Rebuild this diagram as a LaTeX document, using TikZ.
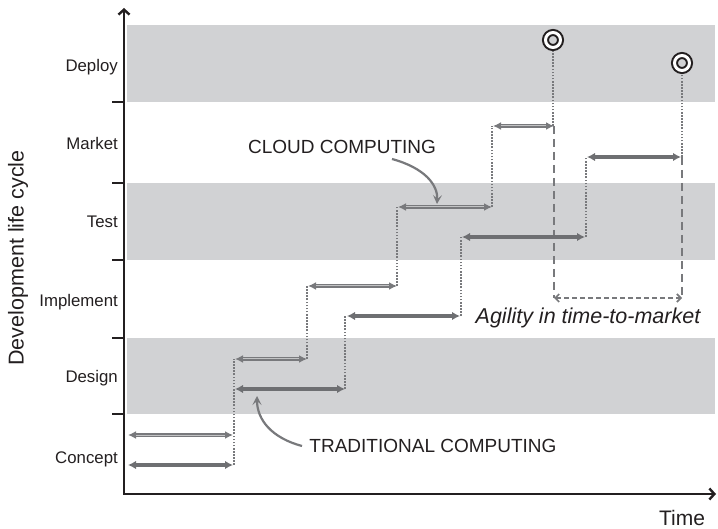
\documentclass[tikz,border=0pt]{standalone}
\usepackage{fontspec}
\setmainfont{Liberation Sans}
\usetikzlibrary{arrows.meta}
\definecolor{band}{RGB}{209,210,212}
\definecolor{arr}{RGB}{120,121,124}
\definecolor{tarr}{RGB}{110,111,114}
\definecolor{ink}{RGB}{35,31,32}
\begin{document}
\begin{tikzpicture}[x=1pt,y=-1pt,
  axis/.style={line width=2.4pt, draw=ink, line join=miter,
    {Straight Barb[length=5pt,width=11pt]}-{Straight Barb[length=5pt,width=11pt]}},
  tick/.style={draw=ink, line width=1.8pt},
  lab/.style={anchor=base east, text=ink, font=\fontsize{16.8}{17}\selectfont, inner sep=0pt},
  trad/.style={draw=tarr, line width=3.3pt, {Latex[length=8pt,width=8.5pt]}-{Latex[length=8pt,width=8.5pt]}},
  cloud/.style={draw=arr, line width=3.1pt, {Latex[length=8pt,width=8pt]}-{Latex[length=8pt,width=8pt]},
    postaction={draw=arr!45, line width=1pt, arrows=-, shorten <=8pt, shorten >=8pt}},
  dots/.style={draw=arr, line width=1.8pt, dash pattern=on 1.6pt off 1.5pt},
  dashes/.style={draw=arr, line width=1.8pt, dash pattern=on 8pt off 5pt},
  agil/.style={draw=arr, line width=1.7pt, dash pattern=on 5pt off 3pt,
    {Straight Barb[length=4pt,width=8pt]}-{Straight Barb[length=4pt,width=8pt]}},
  ring/.style={circle, draw=ink, line width=2pt, double=white, double distance=3pt,
    minimum size=15pt, inner sep=0pt, outer sep=3.5pt},
  callout/.style={draw=arr, line width=2.2pt, -{Stealth[length=9pt,width=9pt,inset=4pt]}},
  big/.style={text=ink, font=\fontsize{19}{19}\selectfont, inner sep=0pt}
]
\useasboundingbox (0,0) rectangle (718,529);
% bands
\fill[band] (127,25) rectangle (715,102);
\fill[band] (127,183) rectangle (715,260);
\fill[band] (127,338) rectangle (715,414);

% axes
\coordinate (Ytop) at (124,8);
\coordinate (O) at (124,494);
\coordinate (Xend) at (716,494);
\draw[axis] (Ytop) -- (O) -- (Xend);
\foreach \yy in {102,183,260,338,414} \draw[tick] (112,\yy) -- (124,\yy);

% stage labels
\node[lab] (ldeploy) at (118,72) {Deploy};
\node[lab] (lmarket) at (118,150) {Market};
\node[lab] (ltest) at (118,228) {Test};
\node[lab] (limpl) at (118,307) {Implement};
\node[lab] (ldesign) at (118,383) {Design};
\node[lab] (lconcept) at (118,464) {Concept};
\node[text=ink, rotate=90, font=\fontsize{21.5}{22}\selectfont, inner sep=0pt] (ylab) at (18,258) {Development life cycle};
\node[text=ink, font=\fontsize{21}{21}\selectfont, inner sep=0pt] (xlab) at (682,518) {Time};

% cloud coordinates
\coordinate (c0s) at (128,435); \coordinate (c0e) at (233,435);
\coordinate (c1s) at (235,359); \coordinate (c1e) at (307,359);
\coordinate (c2s) at (308,286); \coordinate (c2e) at (397,286);
\coordinate (c3s) at (398,207); \coordinate (c3e) at (492,207);
\coordinate (c4s) at (493,126); \coordinate (c4e) at (554,126);
% traditional coordinates
\coordinate (t0s) at (128,465); \coordinate (t0e) at (233,465);
\coordinate (t1s) at (235,389); \coordinate (t1e) at (345,389);
\coordinate (t2s) at (347,316); \coordinate (t2e) at (460,316);
\coordinate (t3s) at (462,237); \coordinate (t3e) at (585,237);
\coordinate (t4s) at (587,157); \coordinate (t4e) at (681,157);

% deploy rings
\node[ring] (cdep) at (553,40) {};
\node[ring] (tdep) at (682,63) {};

% dotted risers
\draw[dots] (234,465) -- (234,359);
\draw[dots] (307,359) -- (307,286);
\draw[dots] (397,286) -- (397,207);
\draw[dots] (492,207) -- (492,126);
\draw[dots] (553,126) -- (cdep.south);
\draw[dots] (345,389) -- (345,316);
\draw[dots] (461,316) -- (461,237);
\draw[dots] (586,237) -- (586,157);
\draw[dots] (682,157) -- (tdep.south);

% dashed drops
\coordinate (ag1) at (554,298);
\coordinate (ag2) at (682,298);
\draw[dashes] (554,126) -- (ag1);
\draw[dashes] (682,157) -- (ag2);
\draw[agil] (ag1) -- (ag2);
\node[text=ink, font=\fontsize{21.5}{22}\itshape\selectfont, inner sep=0pt] (aglab) at (588,318) {Agility in time-to-market};

% arrows
\draw[trad] (t0s) -- (t0e);
\draw[trad] (t1s) -- (t1e);
\draw[trad] (t2s) -- (t2e);
\draw[trad] (t3s) -- (t3e);
\draw[trad] (t4s) -- (t4e);
\draw[cloud] (c0s) -- (c0e);
\draw[cloud] (c1s) -- (c1e);
\draw[cloud] (c2s) -- (c2e);
\draw[cloud] (c3s) -- (c3e);
\draw[cloud] (c4s) -- (c4e);

% callouts
\node[big] (cloudlab) at (342,147) {CLOUD COMPUTING};
\node[big] (tradlab) at (433,446) {TRADITIONAL COMPUTING};
\coordinate (cl1) at (392,159);
\coordinate (cl2) at (437,204);
\draw[callout] (cl1) .. controls (425,168) and (438,185) .. (cl2);
\coordinate (tl1) at (302,446);
\coordinate (tl2) at (257,396);
\draw[callout] (tl1) .. controls (272,438) and (257,420) .. (tl2);
\end{tikzpicture}
\end{document}
